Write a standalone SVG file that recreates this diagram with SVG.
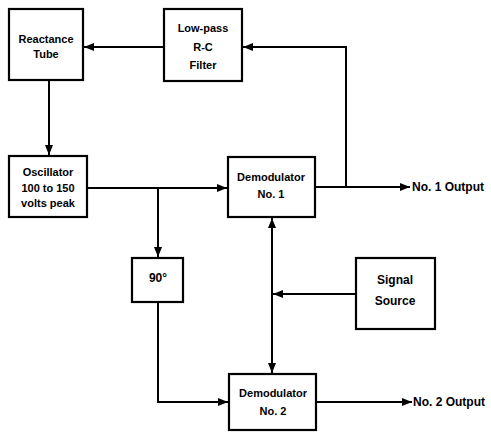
<svg xmlns="http://www.w3.org/2000/svg" width="491" height="432" viewBox="0 0 491 432">
<style>
.box{fill:#fff;stroke:#000;stroke-width:2.2}
.ln{fill:none;stroke:#000;stroke-width:2}
text{font-family:"Liberation Sans",Arial,sans-serif;font-weight:bold;font-size:11px;text-anchor:middle;fill:#000}
.big{font-size:12px}
.out{text-anchor:start;font-size:12px}
</style>
<defs>
<marker id="ah" viewBox="0 0 10 8" refX="10" refY="4" markerWidth="10" markerHeight="8" markerUnits="userSpaceOnUse" orient="auto">
<path d="M0,0 L10,4 L0,8 Z" fill="#000"/>
</marker>
</defs>
<g id="connectors">
<path class="ln" d="M164,47 L84,47" marker-end="url(#ah)"/>
<path class="ln" d="M346,187 L346,47 L243,47" marker-end="url(#ah)"/>
<path class="ln" d="M49,80 L49,155" marker-end="url(#ah)"/>
<path class="ln" d="M87,188 L227,188" marker-end="url(#ah)"/>
<path class="ln" d="M158,188 L158,257" marker-end="url(#ah)"/>
<path class="ln" d="M315,187 L410,187" marker-end="url(#ah)"/>
<path class="ln" d="M272,294 L272,218" marker-end="url(#ah)"/>
<path class="ln" d="M272,294 L272,373" marker-end="url(#ah)"/>
<path class="ln" d="M356,294 L273,294" marker-end="url(#ah)"/>
<path class="ln" d="M158,302 L158,402 L228,402" marker-end="url(#ah)"/>
<path class="ln" d="M316,402 L412,402" marker-end="url(#ah)"/>
</g>
<g id="reactance">
<rect class="box" x="9" y="9" width="74" height="71"/>
<text x="46" y="43">Reactance</text>
<text x="46" y="58">Tube</text>
</g>
<g id="lowpass">
<rect class="box" x="164" y="9" width="78" height="72"/>
<text x="203" y="32">Low-pass</text>
<text x="203" y="51">R-C</text>
<text x="203" y="69">Filter</text>
</g>
<g id="oscillator">
<rect class="box" x="9" y="156" width="78" height="61"/>
<text x="48" y="176">Oscillator</text>
<text x="48" y="192">100 to 150</text>
<text x="48" y="207">volts peak</text>
</g>
<g id="demod1">
<rect class="box" x="228" y="157" width="87" height="60"/>
<text x="271" y="181">Demodulator</text>
<text x="271" y="198">No. 1</text>
</g>
<g id="phase90">
<rect class="box" x="132" y="258" width="51" height="44"/>
<text class="big" x="158" y="282">90°</text>
</g>
<g id="signal">
<rect class="box" x="356" y="258" width="79" height="71"/>
<text class="big" x="395" y="284">Signal</text>
<text class="big" x="395" y="305">Source</text>
</g>
<g id="demod2">
<rect class="box" x="229" y="374" width="87" height="56"/>
<text x="273" y="397">Demodulator</text>
<text x="273" y="415">No. 2</text>
</g>
<g id="out1"><text class="out" x="412" y="191">No. 1 Output</text></g>
<g id="out2"><text class="out" x="413" y="406">No. 2 Output</text></g>
</svg>
